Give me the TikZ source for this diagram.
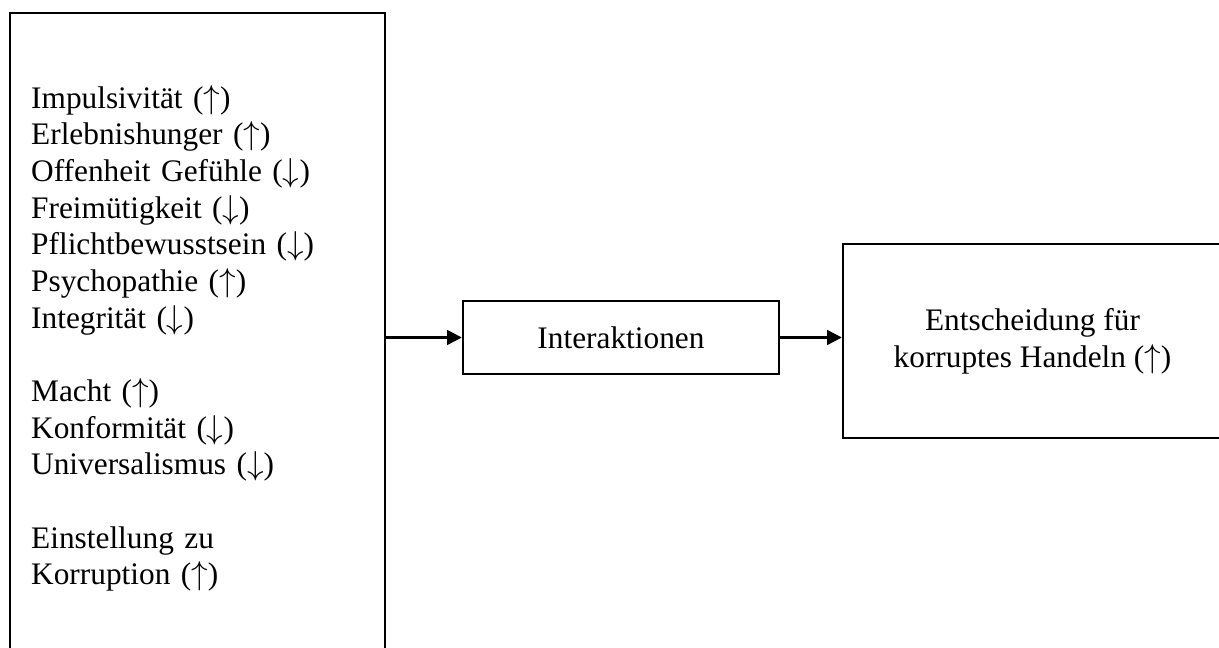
\documentclass[tikz,border=0pt]{standalone}
\usepackage{fontspec}
\setmainfont{Liberation Serif}
\usepackage{newunicodechar}
\newunicodechar{↑}{\ensuremath{\uparrow}}
\newunicodechar{↓}{\ensuremath{\downarrow}}
\usetikzlibrary{positioning, arrows.meta}

\begin{document}
\begin{tikzpicture}[x=0.75pt, y=-0.75pt, line width=1.8pt,
	every node/.style={font=\fontsize{23.5pt}{27.5pt}\selectfont, align=center},
	pfeil/.style={-{Triangle[length=11pt, width=11pt]}}]
			\useasboundingbox (0,0) rectangle (1219,648);
			\clip (0,0) rectangle (1219,648);
			%Predictors
			\node[draw, anchor=north west, align=left, text width=249.75pt, inner xsep=15.75pt, inner ysep=54pt] (traits) at (9,12) {Impulsivität (↑)\\Erlebnishunger (↑)\\Offenheit Gefühle (↓)\\Freimütigkeit (↓)\\Pflichtbewusstsein (↓)\\Psychopathie (↑)\\Integrität (↓)\\[27.5pt]Macht (↑)\\Konformität (↓)\\Universalismus (↓)\\[27.5pt]Einstellung zu\\Korruption (↑)};
			%Interaction
			\node[draw, minimum width=237pt, minimum height=54.75pt] (interaktion) at (621,337.5) {Interaktionen};
			%Outcome
			\node[draw, minimum width=284.25pt, minimum height=145.5pt] (entscheidung) at (1032.5,341) {Entscheidung für\\korruptes Handeln (↑)};
			%Arrows
			\draw[pfeil] (interaktion.west -| traits.east) -- (interaktion.west);
			\draw[pfeil] (interaktion.east) -- (interaktion.east -| entscheidung.west);
		\end{tikzpicture}
\end{document}
